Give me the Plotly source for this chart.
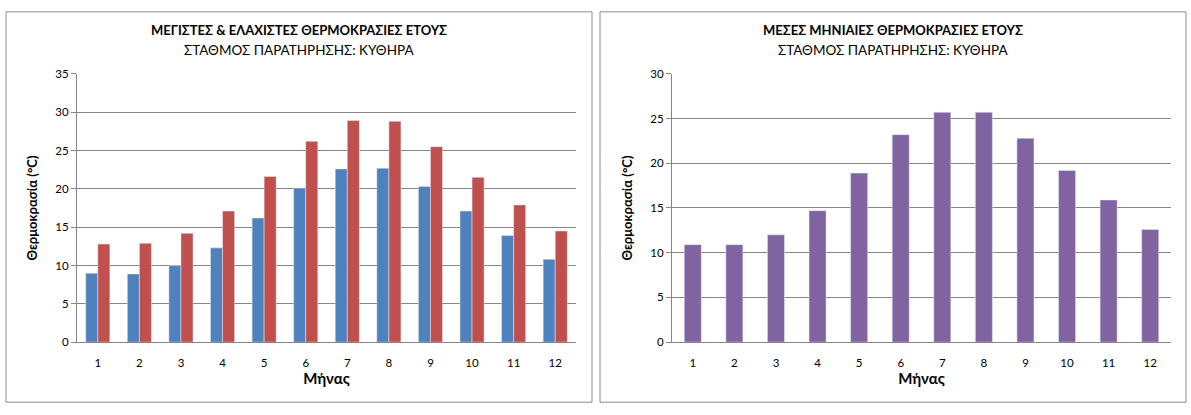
import plotly.graph_objects as go

months = [1, 2, 3, 4, 5, 6, 7, 8, 9, 10, 11, 12]
month_labels = [str(m) for m in months]
t_min = [9.0, 8.9, 10.0, 12.3, 16.2, 20.1, 22.6, 22.7, 20.3, 17.1, 13.9, 10.8]
t_max = [12.8, 12.9, 14.2, 17.1, 21.6, 26.2, 28.9, 28.8, 25.5, 21.5, 17.9, 14.5]
t_mean = [10.9, 10.9, 12.0, 14.7, 18.9, 23.2, 25.7, 25.7, 22.8, 19.2, 15.9, 12.6]

title_left = "ΜΕΓΙΣΤΕΣ & ΕΛΑΧΙΣΤΕΣ ΘΕΡΜΟΚΡΑΣΙΕΣ ΕΤΟΥΣ"
title_right = "ΜΕΣΕΣ ΜΗΝΙΑΙΕΣ ΘΕΡΜΟΚΡΑΣΙΕΣ ΕΤΟΥΣ"
subtitle = "ΣΤΑΘΜΟΣ ΠΑΡΑΤΗΡΗΣΗΣ: ΚΥΘΗΡΑ"
y_title = "Θερμοκρασία (°C)"
x_title = "Μήνας"

W, H = 1191, 415
FONT = "Lato, Open Sans, sans-serif"
GRID = "#868686"

fig = go.Figure()
fig.add_bar(x=months, y=t_min, marker_color="#4F81BD", width=0.29, offset=-0.29,
            xaxis="x", yaxis="y", name="min")
fig.add_bar(x=months, y=t_max, marker_color="#C0504D", width=0.29, offset=0.0,
            xaxis="x", yaxis="y", name="max")
fig.add_bar(x=months, y=t_mean, marker_color="#8064A2", width=0.41, offset=-0.205,
            xaxis="x2", yaxis="y2", name="mean")

def px(v):
    return v / W

def py(v):
    return 1 - v / H

y0, y1 = py(346), py(69)

xcommon = dict(
    tickmode="array", tickvals=months, ticktext=month_labels,
    range=[0.5, 12.5], showgrid=False, showline=True, linecolor=GRID, linewidth=1,
    ticks="", ticklabelstandoff=10, tickfont=dict(family=FONT, size=11.5, color="#000"),
    title=dict(text=x_title, font=dict(family=FONT, size=15, color="#000", weight="bold"), standoff=2),
    zeroline=False, fixedrange=True,
)
ycommon = dict(
    showgrid=True, gridcolor=GRID, gridwidth=1, showline=True, linecolor=GRID, linewidth=1,
    ticks="outside", ticklen=5, tickcolor=GRID, dtick=5,
    tickfont=dict(family=FONT, size=11.5, color="#000"),
    title=dict(text=y_title, font=dict(family=FONT, size=13, color="#000", weight="bold"), standoff=14),
    zeroline=False, fixedrange=True,
)

fig.update_layout(
    width=W, height=H, margin=dict(l=0, r=0, t=0, b=0),
    paper_bgcolor="white", plot_bgcolor="white",
    barmode="overlay", showlegend=False,
    xaxis=dict(domain=[px(77), px(576)], anchor="y", **xcommon),
    yaxis=dict(domain=[y0, y1], anchor="x", range=[0, 35], **ycommon),
    xaxis2=dict(domain=[px(672), px(1171)], anchor="y2", **xcommon),
    yaxis2=dict(domain=[y0, y1], anchor="x2", range=[0, 30], **ycommon),
)

# panel borders
for a, b in [(6, 592), (600, 1186)]:
    fig.add_shape(type="rect", xref="paper", yref="paper",
                  x0=px(a), x1=px(b), y0=py(408), y1=py(5),
                  line=dict(color="#8c8c8c", width=1), fillcolor="rgba(0,0,0,0)")

for cx, t in [(299, title_left), (893, title_right)]:
    fig.add_annotation(x=px(cx), y=py(24), xref="paper", yref="paper", text="<b>" + t + "</b>",
                       showarrow=False, xanchor="center", yanchor="middle",
                       font=dict(family=FONT, size=13, color="#000"))
    fig.add_annotation(x=px(cx), y=py(44), xref="paper", yref="paper", text=subtitle,
                       showarrow=False, xanchor="center", yanchor="middle",
                       font=dict(family=FONT, size=13.5, color="#000"))

fig.write_html("out.html")
